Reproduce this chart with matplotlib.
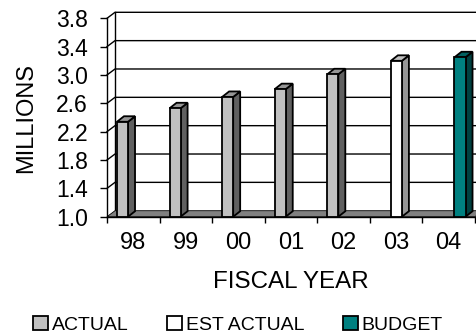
import matplotlib
matplotlib.use('Agg')
import matplotlib.pyplot as plt
from matplotlib.patches import Polygon, Patch
from matplotlib.transforms import IdentityTransform

years = ['98', '99', '00', '01', '02', '03', '04']
values = [2.34, 2.53, 2.69, 2.80, 3.01, 3.20, 3.25]
kinds = ['ACTUAL', 'ACTUAL', 'ACTUAL', 'ACTUAL', 'ACTUAL', 'EST ACTUAL', 'BUDGET']
series = ['ACTUAL', 'EST ACTUAL', 'BUDGET']
yticks = [1.0, 1.4, 1.8, 2.2, 2.6, 3.0, 3.4, 3.8]

# front / side / top colours of each series
colors = {
    'ACTUAL': ('#c0c0c0', '#606060', '#969696'),
    'EST ACTUAL': ('#ffffff', '#969696', '#c0c0c0'),
    'BUDGET': ('#008080', '#004040', '#006060'),
}

plt.rcParams['font.family'] = ['Liberation Sans', 'DejaVu Sans']

W, H = 477, 335
fig = plt.figure(figsize=(W / 100, H / 100), dpi=100)
ax = fig.add_axes([107 / W, 118.3 / H, 368 / W, 198.4 / H])
ax.set_xlim(-0.5, 6.5)
ax.set_ylim(yticks[0], yticks[-1])
ax.patch.set_visible(False)
for s in ['top', 'right']:
    ax.spines[s].set_visible(False)
for s in ['left', 'bottom']:
    ax.spines[s].set_linewidth(1.0)
    ax.spines[s].set_zorder(6)

# depth of the wall and of the bars, in pixels
DX, DY = 8, 6
BX, BY = 7, 5.5
ident = IdentityTransform()


def px(x, y):
    return ax.transData.transform((x, y))


# back wall gridlines (with the short diagonals on the side wall)
for y in yticks[1:]:
    x0, y0 = px(-0.5, y)
    x1, y1 = px(6.5, y)
    ax.plot([x0, x0 + DX, x1 + DX], [y0, y0 + DY, y1 + DY], color='black',
            lw=1.0, transform=ident, clip_on=False, zorder=1)
xa, ya = px(-0.5, yticks[0])
xb, yb = px(-0.5, yticks[-1])
ax.plot([xa + DX, xb + DX], [ya + DY, yb + DY], color='black', lw=1.0,
        transform=ident, clip_on=False, zorder=1)

# floor
f0 = px(-0.5, yticks[0])
f1 = px(6.5, yticks[0])
floor = Polygon([f0, f1, (f1[0] + DX, f1[1] + DY), (f0[0] + DX, f0[1] + DY)],
                closed=True, facecolor='#808080', edgecolor='black', lw=0.6,
                transform=ident, clip_on=False, zorder=2)
ax.add_patch(floor)

# bars
bw = 0.21
for i, (v, k) in enumerate(zip(values, kinds)):
    si = series.index(k)
    left = i - 0.5 + 0.19 + bw * si
    front, side, top = colors[k]
    bl = px(left, yticks[0])
    br = px(left + bw, yticks[0])
    tl = px(left, v)
    tr = px(left + bw, v)
    side_poly = Polygon([br, tr, (tr[0] + BX, tr[1] + BY), (br[0] + BX, br[1] + BY)],
                        closed=True, facecolor=side, edgecolor='black', lw=1.3,
                        transform=ident, clip_on=False, zorder=3)
    top_poly = Polygon([tl, tr, (tr[0] + BX, tr[1] + BY), (tl[0] + BX, tl[1] + BY)],
                       closed=True, facecolor=top, edgecolor='black', lw=1.3,
                       transform=ident, clip_on=False, zorder=3)
    ax.add_patch(side_poly)
    ax.add_patch(top_poly)
    ax.bar(left, v - yticks[0], bottom=yticks[0], width=bw, align='edge',
           color=front, edgecolor='black', lw=1.3, zorder=4, clip_on=False)

# axes ticks
ax.set_yticks(yticks)
ax.set_yticklabels([f'{t:.1f}' for t in yticks])
ax.tick_params(axis='y', direction='out', length=5, width=1.0, pad=8.6, labelsize=16.5)
ax.set_xticks(range(len(years)))
ax.set_xticklabels(years)
ax.set_xticks([i - 0.5 for i in range(len(years) + 1)], minor=True)
ax.tick_params(axis='x', which='major', length=0, pad=11, labelsize=17)
ax.tick_params(axis='x', which='minor', direction='out', length=4, width=1.0)

fig.text(26 / W, 1 - 118 / H, 'MILLIONS', rotation=90, ha='center', va='center', fontsize=17)
fig.text(291 / W, 1 - 282.5 / H, 'FISCAL YEAR', ha='center', va='center', fontsize=17.4)

handles = [Patch(facecolor=colors[s][0], edgecolor='black', lw=1.3, label=s) for s in series]
fig.legend(handles=handles, loc='center', bbox_to_anchor=(238 / W, 1 - 325 / H),
           ncol=3, frameon=False, fontsize=14, handlelength=0.75, handleheight=0.7,
           handletextpad=0.2, columnspacing=2.0, borderpad=0)

fig.savefig('out.png', dpi=100)
